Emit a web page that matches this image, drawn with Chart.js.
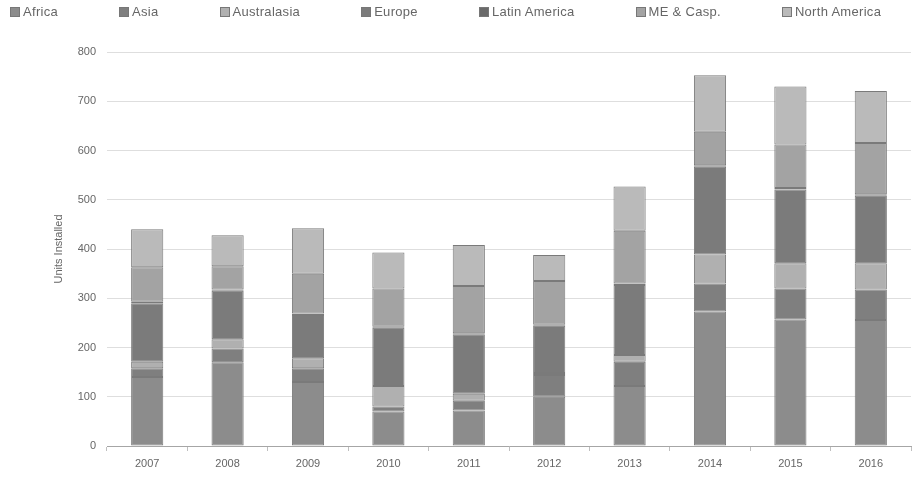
<!DOCTYPE html>
<html>
<head>
<meta charset="utf-8">
<script src="https://cdn.jsdelivr.net/npm/chart.js@4.4.1/dist/chart.umd.min.js"></script>
<style>
body { margin: 0; background: #fff; }
#wrap { position: relative; width: 918px; height: 478px; }
#legend { position: absolute; top: 4px; left: 10px; font: 13px "Liberation Sans", Arial, sans-serif; letter-spacing: 0.3px; color: #666; white-space: nowrap; }
#legend .item { display: inline-block; margin-right: 61px; }
#legend i { display: inline-block; width: 8px; height: 8px; border: 1px solid #777; margin-right: 3px; vertical-align: -1px; }
</style>
</head>
<body>
<div id="wrap">
  <div id="legend"></div>
  <canvas id="chart" width="918" height="478"></canvas>
</div>
<script>
// categories
const years = ['2007', '2008', '2009', '2010', '2011', '2012', '2013', '2014', '2015', '2016'];

// units installed per region
const africa       = [140, 170, 130,  70,  72, 100, 122, 273, 257, 256];
const asia         = [ 18,  28,  28,  10,  20,  44,  49,  57,  63,  62];
const australasia  = [ 13,  19,  20,  42,  14,   4,  14,  59,  51,  53];
const europe       = [119,  98,  88, 118, 121,  96, 142, 178, 150, 137];
const latinAmerica = [  3,   3,   3,   2,   2,   2,   3,   3,   3,   3];
const meCasp       = [ 70,  47,  81,  78,  96,  89, 107,  68,  88, 104];
const northAmerica = [ 77,  63,  92,  73,  83,  53,  90, 115, 118, 106];

const yTicks = [0, 100, 200, 300, 400, 500, 600, 700, 800];

const series = [
  { name: 'Africa',        data: africa,       color: '#8c8c8c' },
  { name: 'Asia',          data: asia,         color: '#7f7f7f' },
  { name: 'Australasia',   data: australasia,  color: '#b0b0b0' },
  { name: 'Europe',        data: europe,       color: '#7b7b7b' },
  { name: 'Latin America', data: latinAmerica, color: '#6a6a6a' },
  { name: 'ME & Casp.',    data: meCasp,       color: '#a3a3a3' },
  { name: 'North America', data: northAmerica, color: '#bababa' }
];

// html legend across the top
const legendEl = document.getElementById('legend');
series.forEach(s => {
  const item = document.createElement('span');
  item.className = 'item';
  const box = document.createElement('i');
  box.style.background = s.color;
  item.appendChild(box);
  item.appendChild(document.createTextNode(s.name));
  legendEl.appendChild(item);
});

const fontFamily = '"Liberation Sans", Arial, sans-serif';

new Chart(document.getElementById('chart'), {
  type: 'bar',
  data: {
    labels: years,
    datasets: series.map(s => ({
      label: s.name,
      data: s.data,
      backgroundColor: s.color,
      borderColor: '#7a7a7a',
      borderWidth: 1,
      borderSkipped: false,
      categoryPercentage: 1,
      barPercentage: 0.4
    }))
  },
  options: {
    responsive: false,
    animation: false,
    devicePixelRatio: 1,
    layout: { padding: { top: 52, right: 7, bottom: 0, left: 0 } },
    plugins: {
      legend: { display: false },
      tooltip: { enabled: false }
    },
    scales: {
      x: {
        stacked: true,
        afterFit: s => { s.height = 32; },
        grid: { drawOnChartArea: false, color: '#bfbfbf', tickLength: 5 },
        border: { color: '#a6a6a6' },
        ticks: { color: '#666', font: { family: fontFamily, size: 11 }, padding: 6 }
      },
      y: {
        stacked: true,
        min: 0,
        max: 800,
        afterFit: s => { s.width = 107; },
        afterBuildTicks: s => { s.ticks = yTicks.map(v => ({ value: v })); },
        grid: { color: '#dedede', drawTicks: false },
        border: { display: false },
        ticks: { color: '#666', font: { family: fontFamily, size: 11 }, padding: 11 },
        title: {
          display: true,
          text: 'Units Installed',
          color: '#666',
          font: { family: fontFamily, size: 11 },
          padding: { top: 52, bottom: 0 }
        }
      }
    }
  }
});
</script>
</body>
</html>
